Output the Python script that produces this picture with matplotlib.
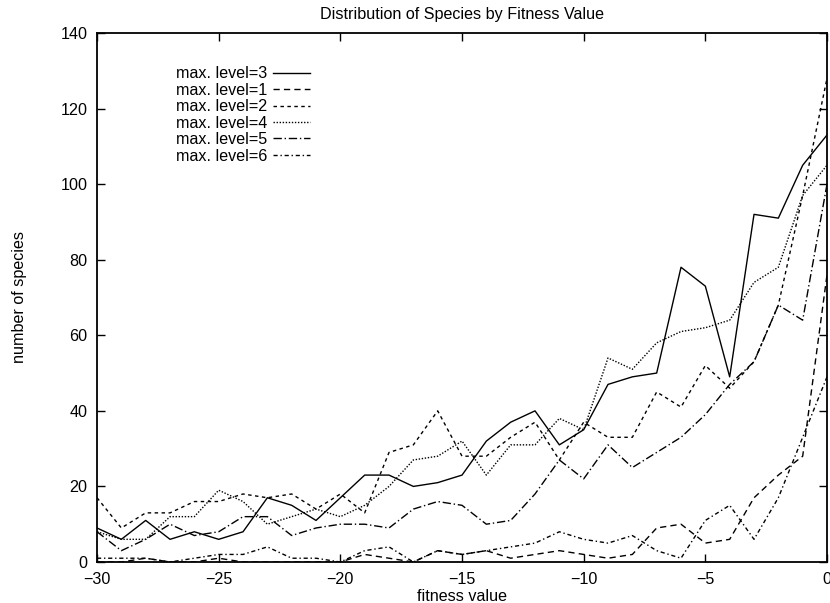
import matplotlib
matplotlib.use("Agg")
import matplotlib.pyplot as plt
import numpy as np

plt.rcParams['font.family'] = ['Liberation Sans', 'DejaVu Sans']

# fitness values -30 .. 0
fitness = list(range(-30, 1))

# number of species per fitness value, one list per max. level
level3 = [9, 6, 11, 6, 8, 6, 8, 17, 15, 11, 17, 23, 23, 20, 21, 23, 32, 37, 40, 31,
          35, 47, 49, 50, 78, 73, 49, 92, 91, 105, 113]
level1 = [0, 0, 1, 0, 0, 1, 0, 0, 0, 0, 0, 2, 1, 0, 3, 2, 3, 1, 2, 3,
          2, 1, 2, 9, 10, 5, 6, 17, 23, 28, 76]
level2 = [17, 9, 13, 13, 16, 16, 18, 17, 18, 14, 18, 13, 29, 31, 40, 28, 28, 33, 37, 27,
          37, 33, 33, 45, 41, 52, 46, 53, 68, 97, 128]
level4 = [8, 6, 6, 12, 12, 19, 16, 10, 12, 14, 12, 15, 20, 27, 28, 32, 23, 31, 31, 38,
          35, 54, 51, 58, 61, 62, 64, 74, 78, 97, 105]
level5 = [8, 3, 6, 10, 7, 8, 12, 12, 7, 9, 10, 10, 9, 14, 16, 15, 10, 11, 18, 27,
          22, 31, 25, 29, 33, 39, 47, 53, 68, 64, 100]
level6 = [1, 1, 1, 0, 1, 2, 2, 4, 1, 1, 0, 3, 4, 0, 3, 2, 3, 4, 5, 8,
          6, 5, 7, 3, 1, 11, 15, 6, 17, 33, 49]

series = [
    ("max. level=3", level3, "-"),
    ("max. level=1", level1, (0, (4.5, 3))),
    ("max. level=2", level2, (0, (2.5, 2.5))),
    ("max. level=4", level4, (0, (1, 1.2))),
    ("max. level=5", level5, (0, (6, 2, 1, 2))),
    ("max. level=6", level6, (0, (3, 2, 1, 2))),
]

fs = 11.6

fig = plt.figure(figsize=(8.3, 6.03), dpi=100)
ax = fig.add_axes([0.1169, 0.068, 0.8795, 0.8773])

for label, vals, ls in series:
    ax.plot(fitness, vals, color="black", linestyle=ls, linewidth=1.0, label=label)

ax.set_xlim(-30, 0)
ax.set_ylim(0, 140)
ax.set_xticks(range(-30, 1, 5))
ax.set_yticks(range(0, 141, 20))
ax.tick_params(direction="in", length=6, width=1, top=True, right=True,
               labelsize=fs, pad=7)
for s in ax.spines.values():
    s.set_linewidth(1.3)

ax.set_title("Distribution of Species by Fitness Value", fontsize=fs, pad=10)
ax.set_xlabel("fitness value", fontsize=fs, labelpad=2)
ax.set_ylabel("number of species", fontsize=fs, labelpad=24)

leg = ax.legend(loc="upper left", bbox_to_anchor=(0.108, 0.937), frameon=False,
                markerfirst=False, handlelength=2.3, handletextpad=0.35,
                labelspacing=0.09, fontsize=fs, borderaxespad=0, borderpad=0)

fig.savefig("out.png", dpi=100)
